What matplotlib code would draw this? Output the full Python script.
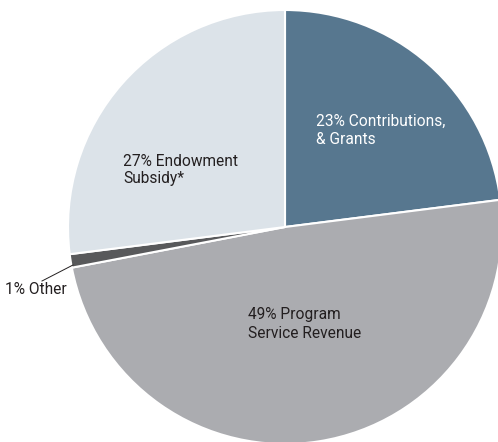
import matplotlib
matplotlib.use("Agg")
import matplotlib.pyplot as plt

# Revenue sources (percent), clockwise from the top
labels = ["23% Contributions,\n& Grants", "49% Program\nService Revenue",
          "1% Other", "27% Endowment\nSubsidy*"]
shares = [23, 49, 1, 27]
colors = ["#57778f", "#abacb0", "#58595b", "#dce3e9"]
text_colors = ["white", "#231f20", "#231f20", "#231f20"]

plt.rcParams['font.family'] = ['Roboto', 'DejaVu Sans']

fig = plt.figure(figsize=(4.98, 4.42), dpi=100)
ax = fig.add_axes([0, 0, 1, 1])

ax.pie(shares, colors=colors, startangle=90, counterclock=False,
       center=(285, 215), radius=217,
       wedgeprops=dict(edgecolor="white", linewidth=1.5))

ax.set_xlim(0, 498)
ax.set_ylim(0, 442)
ax.set_aspect("equal")
ax.axis("off")

fs = 11.2
# in-slice labels
ax.text(316, 312, labels[0], color=text_colors[0], fontsize=fs,
        ha="left", va="center", linespacing=1.25)
ax.text(248, 118, labels[1], color=text_colors[1], fontsize=fs,
        ha="left", va="center", linespacing=1.25)
ax.text(123, 272, labels[3], color=text_colors[3], fontsize=fs,
        ha="left", va="center", linespacing=1.25)

# outside label with leader line
ax.plot([42, 73], [161, 177], color="#231f20", linewidth=0.7)
ax.text(5, 152, labels[2], color=text_colors[2], fontsize=fs,
        ha="left", va="center")

fig.savefig("out.png", dpi=100)
